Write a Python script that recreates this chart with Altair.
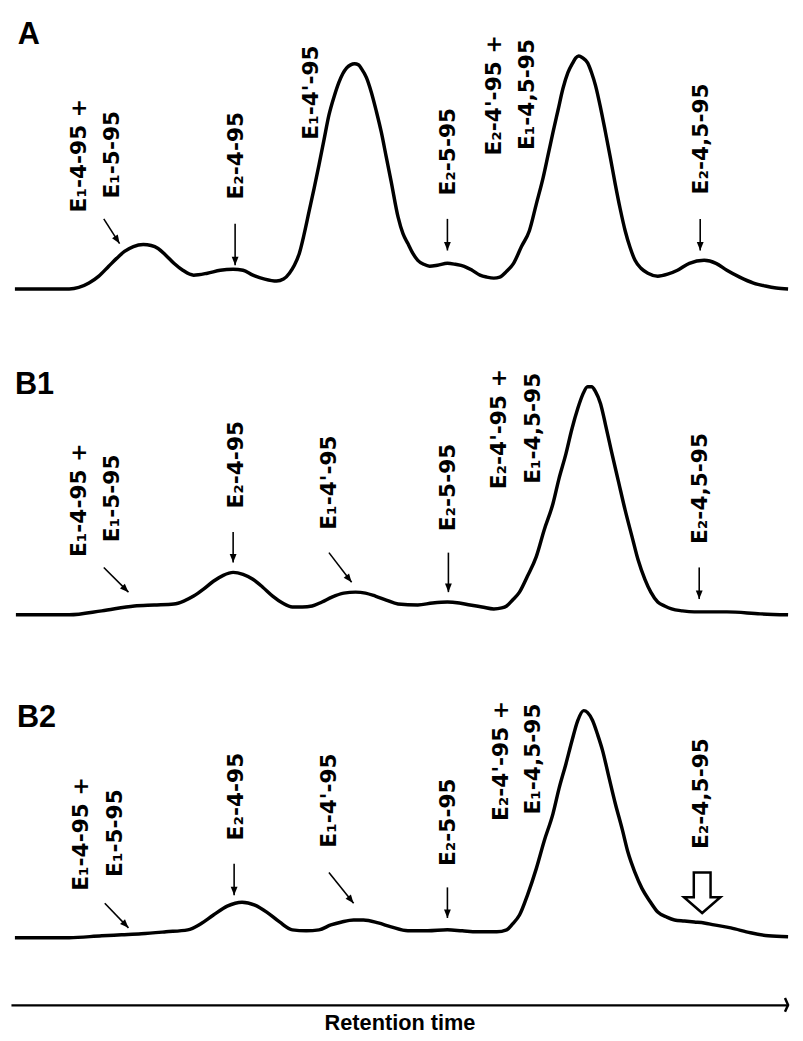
import altair as alt
import pandas as pd

# ---------------- data ----------------
# retention time (min) and detector signal (a.u., 0 = baseline) for each trace
A_t = [0.4, 3.2, 5.9, 7.9, 8.9, 9.9, 10.7, 11.5, 12.4, 13.4, 14.2, 14.9, 15.7, 16.5, 17.4, 18.5,
       19.9, 21.2, 22.5, 23.5, 24.5, 25.7, 26.9, 27.6, 28.2, 28.7, 29.2, 29.7, 30.2, 30.7, 31.2,
       31.7, 32.2, 32.7, 33.2, 33.6, 34.0, 34.4, 34.8, 35.2, 35.5, 36.0, 36.5, 37.0, 37.5, 38.0,
       38.5, 39.2, 39.7, 40.2, 40.7, 41.2, 41.8, 42.4, 43.2, 44.2, 45.0, 45.9, 46.7, 47.5, 48.2,
       48.9, 49.5, 50.2, 50.9, 51.7, 52.5, 53.2, 53.9, 54.4, 54.9, 55.4, 55.9, 56.4, 56.9, 57.2,
       57.5, 57.9, 58.4, 58.8, 59.2, 59.7, 60.2, 60.7, 61.2, 61.7, 62.2, 62.7, 63.2, 63.8, 64.5,
       65.5, 66.5, 67.5, 68.7, 70.2, 71.4, 72.5, 73.8, 75.2, 76.4, 77.5, 78.7]
A_v = [0, 0, 0, 3, 6.5, 11.5, 15.5, 19, 21.5, 22.5, 22, 20.5, 17, 13, 9.5, 7,
       8, 9.5, 10, 9.5, 7, 5, 4, 5, 8, 12, 18, 28, 39.5, 51, 63,
       75.5, 88, 97, 104.5, 109, 112, 113.5, 114, 113.5, 111.5, 107, 99.5, 90, 79.5, 67,
       54.5, 36.5, 28, 23, 18, 14.5, 12.5, 11.5, 12, 13, 12.5, 11.5, 9.5, 7, 6,
       5.5, 6, 9, 13, 21.5, 29.5, 43, 56.5, 68, 79.5, 90.5, 101.5, 109.5, 114.5, 117,
       118, 117, 114.5, 109.5, 103, 92, 79.5, 66.5, 53, 40.5, 29.5, 21, 14.5, 10.5, 8,
       6.5, 7.5, 9.5, 13, 14.5, 13, 9.5, 6, 3, 1.5, 0.5, 0]

B1_t = [0.5, 5.9, 9.2, 12.5, 14.5, 16.5, 17.5, 18.5, 19.5, 20.5, 21.5, 22.5, 23.5, 24.5, 25.5,
        26.5, 27.5, 28.5, 29.5, 30.5, 31.5, 32.5, 33.7, 34.9, 35.9, 36.9, 38.0, 39.2, 41.2,
        42.7, 44.2, 45.4, 46.5, 47.7, 48.9, 49.7, 50.2, 50.8, 51.5, 52.3, 53.2, 54.0, 54.9,
        55.5, 56.2, 56.8, 57.4, 57.9, 58.4, 58.8, 59.2, 59.7, 60.2, 60.8, 61.5, 62.2, 62.9,
        63.5, 64.2, 64.8, 65.5, 66.2, 66.9, 68.0, 69.2, 72.5, 75.9, 78.7]
B1_v = [0, 0, 2, 4.5, 5, 5.5, 7, 9.5, 13, 17, 20, 21.5, 20.5, 18, 14,
        9.5, 6, 4, 4, 4.5, 6.5, 9, 11, 11.5, 11, 9.5, 7.5, 5.5, 5,
        6, 6.5, 6, 5, 4, 3, 3.5, 4.5, 7.5, 11.5, 19.5, 29.5, 43, 56.5,
        69, 81.5, 94, 104.5, 111.5, 115.5, 115.5, 113, 107, 96.5, 83, 68, 53, 39.5,
        28, 18, 11.5, 6.5, 4.5, 3, 2, 1.5, 1.5, 0.5, 0]

B2_t = [0.4, 5.9, 9.2, 11.2, 13.2, 15.7, 17.9, 19.2, 20.5, 21.9, 23.4, 24.7, 25.9, 27.2, 28.5,
        29.9, 31.2, 32.4, 33.5, 34.7, 35.7, 37.2, 38.5, 40.2, 42.2, 44.2, 45.7, 47.2, 49.2,
        50.2, 50.8, 51.5, 52.3, 53.2, 54.0, 54.9, 55.5, 56.2, 56.8, 57.4, 58.0, 58.4, 58.9,
        59.4, 59.9, 60.5, 61.2, 61.9, 62.5, 63.2, 63.9, 64.7, 65.5, 66.4, 67.2, 68.2, 69.2,
        70.2, 71.2, 72.9, 74.9, 76.7, 78.7]
B2_v = [0, 0, 1, 1.5, 2, 3, 4, 7, 11.5, 16, 18, 16.5, 13, 8, 4,
        3.5, 4, 6.5, 8, 9, 9, 7.5, 5.5, 3.5, 3.5, 4, 3.5, 3, 3,
        4, 7, 11.5, 21.5, 35, 49, 63, 75.5, 88, 99.5, 110, 115, 114, 110,
        103, 95, 82.5, 68, 55, 43, 33, 25, 18.5, 13, 10.5, 9, 8.5, 8,
        7.5, 6.5, 5, 2.5, 1, 0.5]

# peak labels (one entry per printed line)
LABELS = ["E\u2081-4-95 +", "E\u2081-5-95", "E\u2082-4-95", "E\u2081-4'-95",
          "E\u2082-5-95", "E\u2082-4'-95 +", "E\u2081-4,5-95", "E\u2082-4,5-95"]
A_lab_t = [6.9, 10.2, 22.8, 30.4, 44.3, 48.9, 52.3, 69.9]
A_lab_v = [67.5, 68, 67.5, 99.5, 69.5, 98, 98.5, 76]
B1_lab_t = [6.9, 10.2, 22.8, 32.2, 44.3, 49.4, 52.9, 69.8]
B1_lab_v = [58, 59, 76, 67, 64.5, 94, 94.5, 64]
B2_lab_t = [7.1, 10.5, 22.8, 32.2, 44.3, 49.6, 52.9, 69.9]
B2_lab_v = [52.5, 53, 71.5, 69.5, 58.5, 89.5, 90.5, 73]

# small arrows: start (t1, v1) -> tip (t2, v2), head angle in degrees
A_arr = dict(t1=[9.4, 22.7, 44.2, 69.8], v1=[35.5, 33, 35.5, 35.5],
             t2=[11.0, 22.7, 44.2, 69.8], v2=[23, 12, 19.5, 19.5], ang=[327, 0, 0, 0])
B1_arr = dict(t1=[9.4, 22.5, 32.2, 44.3, 69.7], v1=[24, 42, 31.5, 31.5, 24],
              t2=[11.9, 22.5, 34.5, 44.3, 69.7], v2=[11.5, 26.5, 16.5, 11.5, 8],
              ang=[315, 0, 322, 0, 0])
B2_arr = dict(t1=[9.5, 22.6, 32.2, 44.2], v1=[17.5, 37.5, 33, 25.5],
              t2=[11.9, 22.6, 34.7, 44.2], v2=[5, 21.5, 17.5, 10],
              ang=[316, 0, 321, 0])
B2_big_arrow = dict(t=[70.0], v=[12.5])

PANELS = ["A", "B1", "B2"]
PANEL_LABEL_POS = dict(t=[0.7, 0.4, 0.6], v=[124, 112, 106.5])

# ---------------- chart ----------------
T_DOMAIN = [0, 78.7]
W = 787
HEAD = "M0,0L-0.4,-1L0.4,-1Z"
BIG = "M-0.207,-1L0.207,-1L0.207,-0.39L0.45,-0.39L0,0L-0.45,-0.39L-0.207,-0.39Z"
CHEVRON = "M-0.45,-1L0,0L-0.45,1"


def panel(idx, t, v, lab_t, lab_v, arr, ydom, height, bottom=False, big=None):
    if bottom:
        axis = alt.Axis(title="Retention time", domain=True, domainColor="black",
                        domainWidth=2.5, ticks=False, labels=False, grid=False,
                        titleFont="Liberation Sans", titleFontWeight="bold",
                        titleFontSize=22, titleColor="black", titlePadding=8)
    else:
        axis = None
    xs = alt.Scale(domain=T_DOMAIN, nice=False, zero=False)
    ys = alt.Scale(domain=ydom, nice=False, zero=False)

    def X(f):
        return alt.X(f, type="quantitative", scale=xs, axis=axis)

    def Y(f):
        return alt.Y(f, type="quantitative", scale=ys, axis=None)

    curve = pd.DataFrame({"t": t, "v": v})
    labs = pd.DataFrame({"t": lab_t, "v": lab_v, "txt": LABELS})
    arrows = pd.DataFrame(arr)
    name = pd.DataFrame({"t": [PANEL_LABEL_POS["t"][idx]], "v": [PANEL_LABEL_POS["v"][idx]],
                         "txt": [PANELS[idx]]})

    line = alt.Chart(curve).mark_line(color="black", strokeWidth=3.5, interpolate="monotone").encode(
        x=X("t"), y=Y("v"))
    text = alt.Chart(labs).mark_text(font="DejaVu Sans", fontWeight="bold", fontSize=22, angle=270,
                                     align="center", baseline="middle", color="black").encode(
        x=X("t"), y=Y("v"), text="txt:N")
    shafts = alt.Chart(arrows).mark_rule(color="black", strokeWidth=1.6).encode(
        x=X("t1"), y=Y("v1"), x2="t2", y2="v2")
    heads = alt.Chart(arrows).mark_point(shape=HEAD, filled=True, color="black", size=300,
                                         opacity=1).encode(
        x=X("t2"), y=Y("v2"), angle=alt.Angle("ang:Q", scale=None))
    title = alt.Chart(name).mark_text(font="Liberation Sans", fontWeight="bold", fontSize=31,
                                      align="left", baseline="alphabetic", color="black").encode(
        x=X("t"), y=Y("v"), text="txt:N")
    layers = [line, shafts, heads, text, title]
    if big is not None:
        bdf = pd.DataFrame(big)
        layers.append(alt.Chart(bdf).mark_point(shape=BIG, filled=True, fill="white", stroke="black",
                                                strokeWidth=2.5, size=6724, opacity=1).encode(
            x=X("t"), y=Y("v")))
    if bottom:
        cdf = pd.DataFrame({"t": [T_DOMAIN[1]], "v": [ydom[0]]})
        layers.append(alt.Chart(cdf).mark_point(shape=CHEVRON, filled=False, stroke="black",
                                                strokeWidth=2.5, size=196, opacity=1).encode(
            x=X("t"), y=Y("v")))
    return alt.layer(*layers).properties(width=W, height=height)


pA = panel(0, A_t, A_v, A_lab_t, A_lab_v, A_arr, [-22, 139], 322)
pB1 = panel(1, B1_t, B1_v, B1_lab_t, B1_lab_v, B1_arr, [-19.5, 143], 325)
pB2 = panel(2, B2_t, B2_v, B2_lab_t, B2_lab_v, B2_arr, [-34, 144], 356, bottom=True, big=B2_big_arrow)

chart = alt.vconcat(pA, pB1, pB2, spacing=0, bounds="flush").properties(
    padding=0, background="white"
).configure_view(stroke=None)

chart.save("out.html", embed_options={"renderer": "svg", "actions": False})
